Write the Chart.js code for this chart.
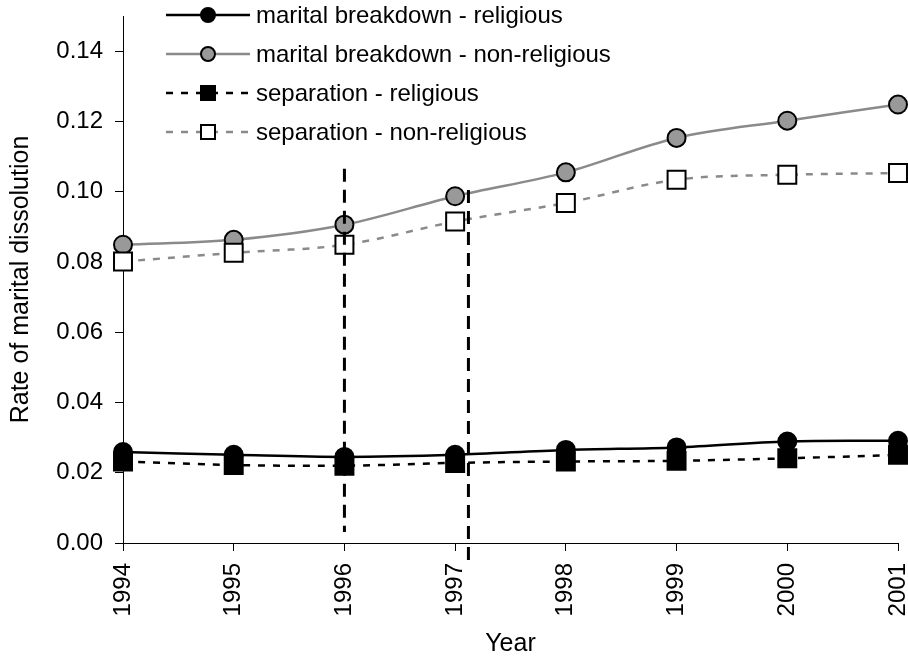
<!DOCTYPE html>
<html>
<head>
<meta charset="utf-8">
<script src="https://cdn.jsdelivr.net/npm/chart.js@4/dist/chart.umd.min.js"></script>
<style>
  html, body { margin: 0; padding: 0; background: #fff; }
  #wrap { width: 908px; height: 656px; }
</style>
</head>
<body>
<div id="wrap"><canvas id="myChart" width="908" height="656"></canvas></div>
<script>
// data
const years = ["1994", "1995", "1996", "1997", "1998", "1999", "2000", "2001"];
const maritalReligious = [0.0259, 0.0251, 0.0245, 0.0251, 0.0265, 0.0272, 0.0289, 0.0291];
const maritalNonReligious = [0.0849, 0.0863, 0.0906, 0.0987, 0.1055, 0.1153, 0.1202, 0.1248];
const separationReligious = [0.0232, 0.0222, 0.0220, 0.0228, 0.0232, 0.0234, 0.0241, 0.0251];
const separationNonReligious = [0.0801, 0.0826, 0.0849, 0.0915, 0.0968, 0.1034, 0.1048, 0.1053];
const seriesNames = [
    "marital breakdown - religious",
    "marital breakdown - non-religious",
    "separation - religious",
    "separation - non-religious",
];
const yTicks = [0, 0.02, 0.04, 0.06, 0.08, 0.10, 0.12, 0.14];
// dashed vertical markers: position on the year axis (index), top and bottom value
const dividerIndex = [2, 3.12];
const dividerTop = [0.1065, 0.1005];
const dividerBottom = [0.0031, -0.0057];

const FONT = "'Liberation Sans', Arial, sans-serif";
const GRAY = "#8a8a8a";

// simple legend: line + marker + text, drawn over the plot
const lineLegend = {
    id: "lineLegend",
    afterDraw(chart) {
        const ctx = chart.ctx;
        const x0 = 166, x1 = 250, xm = 208, xt = 256;
        chart.data.datasets.forEach((ds, i) => {
            const y = 15 + i * 39;
            ctx.save();
            ctx.strokeStyle = ds.borderColor;
            ctx.lineWidth = ds.borderWidth;
            ctx.setLineDash(ds.borderDash || []);
            ctx.beginPath();
            ctx.moveTo(x0, y);
            ctx.lineTo(x1, y);
            ctx.stroke();
            ctx.setLineDash([]);
            ctx.fillStyle = ds.pointBackgroundColor;
            ctx.strokeStyle = ds.pointBorderColor;
            ctx.lineWidth = 2;
            ctx.beginPath();
            if (ds.pointStyle === "rect") {
                ctx.rect(xm - 7, y - 7, 14, 14);
            } else {
                ctx.arc(xm, y, 7, 0, Math.PI * 2);
            }
            ctx.fill();
            ctx.stroke();
            ctx.fillStyle = "#000";
            ctx.font = "24px " + FONT;
            ctx.textBaseline = "middle";
            ctx.textAlign = "left";
            ctx.fillText(ds.label, xt, y + 1);
            ctx.restore();
        });
    }
};

const dividers = {
    id: "dividers",
    afterDatasetsDraw(chart) {
        const ctx = chart.ctx;
        const xs = chart.scales.x, ys = chart.scales.y;
        ctx.save();
        ctx.strokeStyle = "#000";
        ctx.lineWidth = 3;
        ctx.setLineDash([13, 8]);
        dividerIndex.forEach((idx, i) => {
            const x = xs.getPixelForValue(idx);
            ctx.beginPath();
            ctx.moveTo(x, ys.getPixelForValue(dividerTop[i]));
            ctx.lineTo(x, ys.getPixelForValue(dividerBottom[i]));
            ctx.stroke();
        });
        ctx.restore();
    }
};

const ctx = document.getElementById("myChart").getContext("2d");
new Chart(ctx, {
    type: "line",
    data: {
        labels: years,
        datasets: [
            {
                label: seriesNames[0],
                data: maritalReligious,
                borderColor: "#000",
                borderWidth: 2.5,
                pointStyle: "circle",
                pointRadius: 9,
                pointBackgroundColor: "#000",
                pointBorderColor: "#000",
                pointBorderWidth: 2,
                order: 2,
            },
            {
                label: seriesNames[1],
                data: maritalNonReligious,
                borderColor: GRAY,
                borderWidth: 2.5,
                pointStyle: "circle",
                pointRadius: 9,
                pointBackgroundColor: "#999999",
                pointBorderColor: "#000",
                pointBorderWidth: 2,
                order: 2,
            },
            {
                label: seriesNames[2],
                data: separationReligious,
                borderColor: "#000",
                borderWidth: 2.5,
                borderDash: [7, 8],
                pointStyle: "rect",
                pointRadius: 12.7,
                pointBackgroundColor: "#000",
                pointBorderColor: "#000",
                pointBorderWidth: 2,
                order: 1,
            },
            {
                label: seriesNames[3],
                data: separationNonReligious,
                borderColor: GRAY,
                borderWidth: 2.5,
                borderDash: [7, 8],
                pointStyle: "rect",
                pointRadius: 12.7,
                pointBackgroundColor: "#fff",
                pointBorderColor: "#000",
                pointBorderWidth: 2,
                order: 1,
            },
        ],
    },
    options: {
        responsive: false,
        animation: false,
        devicePixelRatio: 1,
        layout: { autoPadding: false, padding: { top: 16, right: 10, left: 0, bottom: 0 } },
        elements: { line: { tension: 0.35, fill: false } },
        datasets: { line: { clip: false } },
        plugins: {
            legend: { display: false },
            tooltip: { enabled: false },
        },
        scales: {
            x: {
                type: "category",
                offset: false,
                grid: { drawOnChartArea: false, tickLength: 8, color: "#000" },
                border: { color: "#000", width: 1 },
                ticks: {
                    color: "#000",
                    font: { family: FONT, size: 24 },
                    minRotation: 90,
                    maxRotation: 90,
                    padding: 12,
                },
                title: {
                    display: true,
                    text: "Year",
                    color: "#000",
                    font: { family: FONT, size: 25 },
                    padding: { top: 0, bottom: -3 },
                },
                afterFit(scale) {
                    scale.height = 113;
                    scale.paddingLeft = 0;
                    scale.paddingRight = 0;
                },
            },
            y: {
                min: 0,
                max: 0.15,
                grid: { drawOnChartArea: false, tickLength: 8, color: "#000" },
                border: { color: "#000", width: 1 },
                ticks: {
                    color: "#000",
                    font: { family: FONT, size: 24 },
                    padding: 12,
                    callback: v => v.toFixed(2),
                },
                afterBuildTicks(scale) {
                    scale.ticks = yTicks.map(v => ({ value: v }));
                },
                title: {
                    display: true,
                    text: "Rate of marital dissolution",
                    color: "#000",
                    font: { family: FONT, size: 25 },
                    padding: { top: 6, bottom: 0 },
                },
                afterFit(scale) {
                    scale.width = 123;
                    scale.paddingTop = 0;
                    scale.paddingBottom = 0;
                },
            },
        },
    },
    plugins: [dividers, lineLegend],
});
</script>
</body>
</html>
